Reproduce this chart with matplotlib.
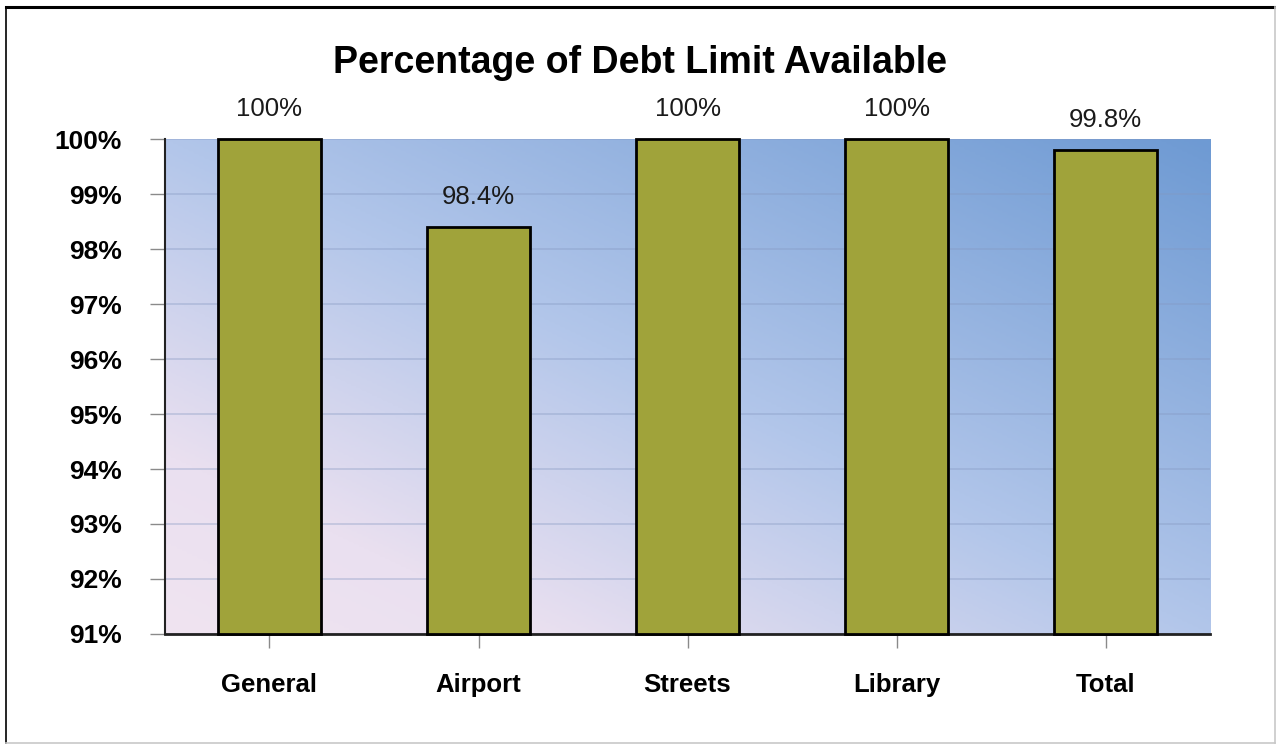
import numpy as np
import matplotlib
matplotlib.use('Agg')
import matplotlib.pyplot as plt
from matplotlib.colors import LinearSegmentedColormap
from matplotlib.lines import Line2D

# Chart data
categories = ['General', 'Airport', 'Streets', 'Library', 'Total']
available_pct = [100.0, 98.4, 100.0, 100.0, 99.8]
value_labels = ['100%', '98.4%', '100%', '100%', '99.8%']
y_ticks = list(range(91, 101))
y_floor = 91

plt.rcParams['font.family'] = ['Liberation Sans', 'DejaVu Sans']

fig = plt.figure(figsize=(12.76, 7.45), dpi=100)
ax = fig.add_axes([0.1293, 0.149, 0.819, 0.6644])

# Diagonal background gradient (pink bottom-left -> blue top-right)
grad_cmap = LinearSegmentedColormap.from_list(
    'bg', [(0.0, '#F0E4F1'), (0.18, '#EAE0F0'), (0.5, '#B2C6EA'), (1.0, '#6E9AD3')])
gx, gy = np.meshgrid(np.linspace(0, 1, 400), np.linspace(0, 1, 200))
ax.imshow((gx + gy) / 2, cmap=grad_cmap, extent=[0, 1, 0, 1],
          transform=ax.transAxes, origin='lower', aspect='auto',
          zorder=0, interpolation='bilinear')

x = np.arange(len(categories))
heights = [v - y_floor for v in available_pct]
bars = ax.bar(x, heights, bottom=y_floor, width=0.49, color='#A0A33A',
              edgecolor='black', linewidth=2, zorder=3, clip_on=False)

for rect, lab in zip(bars, value_labels):
    ax.annotate(lab, (rect.get_x() + rect.get_width() / 2, rect.get_y() + rect.get_height()),
                xytext=(0, 13), textcoords='offset points', ha='center', va='bottom',
                fontsize=18.5, color='#1a1a1a', annotation_clip=False)

ax.set_xlim(-0.5, len(categories) - 0.5)
ax.set_ylim(y_floor, 100)
ax.set_yticks(y_ticks)
ax.set_yticklabels(['{}%'.format(t) for t in y_ticks], fontsize=19, fontweight='bold')
ax.set_xticks(x)
ax.set_xticklabels(categories, fontsize=18.5, fontweight='bold')

ax.set_axisbelow(True)
ax.yaxis.grid(True, color='#8497C0', alpha=0.4, linewidth=1.2)

ax.tick_params(axis='y', length=11, width=1, color='#8a8a8a', pad=20)
ax.tick_params(axis='x', length=10, width=1, color='#8a8a8a', pad=18)

for s in ['top', 'right']:
    ax.spines[s].set_visible(False)
ax.spines['left'].set_linewidth(1.5)
ax.spines['left'].set_color('#222222')
ax.spines['bottom'].set_linewidth(2)
ax.spines['bottom'].set_color('#222222')

fig.text(0.5016, 0.9155, 'Percentage of Debt Limit Available', ha='center', va='center',
         fontsize=27, fontweight='bold', color='black')

# Outer frame
fig.add_artist(Line2D([0.0047, 0.9992], [0.991, 0.991], color='black', linewidth=2.2))
fig.add_artist(Line2D([0.0047, 0.0047], [0.0027, 0.991], color='black', linewidth=1.2))
fig.add_artist(Line2D([0.9992, 0.9992], [0.0027, 0.991], color='#c8c8c8', linewidth=1.2))
fig.add_artist(Line2D([0.0047, 0.9992], [0.0027, 0.0027], color='#c8c8c8', linewidth=1.2))

fig.savefig('out.png', dpi=100, facecolor='white')
